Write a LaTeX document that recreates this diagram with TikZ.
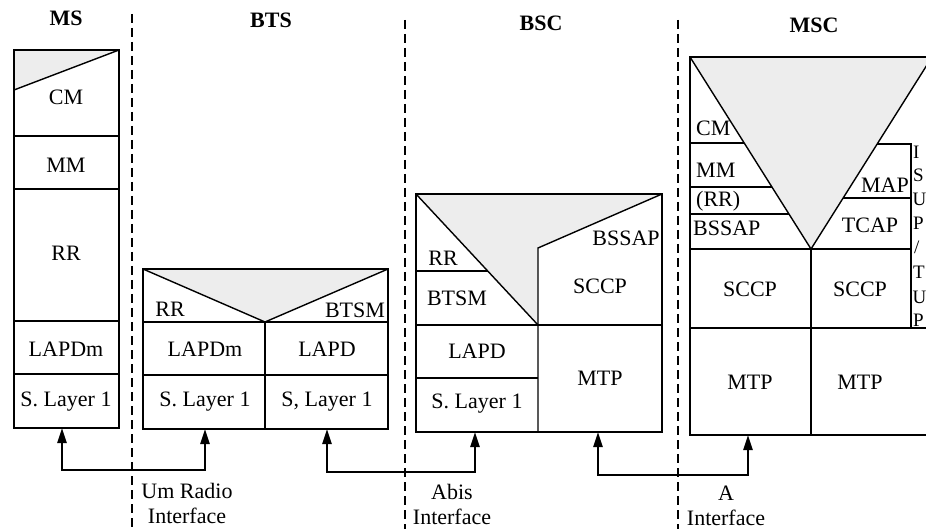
\documentclass[tikz,border=0pt]{standalone}
\usepackage{fontspec}
\setmainfont{Liberation Serif}
\usetikzlibrary{arrows.meta}
\begin{document}
\begin{tikzpicture}[x=1pt,y=-1pt,
  box/.style={line width=1.4pt},
  shaded/.style={fill=black!7},
  lbl/.style={font=\fontsize{22}{25}\selectfont, inner sep=0pt},
  vlt/.style={font=\fontsize{19}{22}\selectfont, inner sep=0pt, anchor=west},
  ttl/.style={font=\fontsize{22}{25}\selectfont\bfseries, inner sep=0pt},
  sepline/.style={line width=1.1pt, dash pattern=on 9pt off 5pt},
  link/.style={line width=2.3pt, {Triangle[length=15pt,width=9pt]}-{Triangle[length=15pt,width=9pt]}}
]
\useasboundingbox (0,0) rectangle (926,529);
\clip (0,0) rectangle (926,529);

% titles
\node[ttl] (tms) at (66,18) {MS};
\node[ttl] (tbts) at (271,20) {BTS};
\node[ttl] (tbsc) at (541,23) {BSC};
\node[ttl] (tmsc) at (814,25) {MSC};

% separators
\draw[sepline] (132,14) -- (132,529);
\draw[sepline] (405,20) -- (405,529);
\draw[sepline] (678,20) -- (678,529);

% ---------- MS ----------
\fill[shaded] (14,50) -- (119,50) -- (14,90) -- cycle;
\draw[box] (14,50) rectangle (119,428);
\draw[box] (14,90) -- (119,50);
\draw[box] (14,136) -- (119,136);
\draw[box] (14,189) -- (119,189);
\draw[box] (14,321) -- (119,321);
\draw[box] (14,374) -- (119,374);
\node[lbl] (mscm) at (66,97) {CM};
\node[lbl] (msmm) at (66,165) {MM};
\node[lbl] (msrr) at (66,253) {RR};
\node[lbl] (mslapdm) at (66,349) {LAPDm};
\node[lbl] (msl1) at (66,402) {S. Layer 1};
\coordinate (msb) at (62,428);

% ---------- BTS ----------
\fill[shaded] (143,269) -- (388,269) -- (265,322) -- cycle;
\draw[box] (143,269) rectangle (388,429);
\draw[box] (143,269) -- (265,322) -- (388,269);
\draw[box] (143,322) -- (388,322);
\draw[box] (143,375) -- (388,375);
\draw[box] (265,322) -- (265,429);
\node[lbl] (btsrr) at (170,309) {RR};
\node[lbl] (btsbtsm) at (355,310) {BTSM};
\node[lbl] (btslapdm) at (205,349) {LAPDm};
\node[lbl] (btslapd) at (327,349) {LAPD};
\node[lbl] (btsl1a) at (205,402) {S. Layer 1};
\node[lbl] (btsl1b) at (327,402) {S, Layer 1};
\coordinate (btsbl) at (205,429);
\coordinate (btsbr) at (327,429);

% ---------- BSC ----------
\fill[shaded] (416,194) -- (662,194) -- (538,248) -- (538,325) -- cycle;
\draw[box] (416,194) rectangle (662,432);
\draw[box] (416,194) -- (538,325);
\draw[box] (538,432) -- (538,248) -- (662,194);
\draw[box] (416,271) -- (488,271);
\draw[box] (416,325) -- (662,325);
\draw[box] (416,378) -- (538,378);
\node[lbl] (bscrr) at (443,258) {RR};
\node[lbl] (bscbtsm) at (457,298) {BTSM};
\node[lbl] (bscbssap) at (626,238) {BSSAP};
\node[lbl] (bsclapd) at (477,351) {LAPD};
\node[lbl] (bscl1) at (477,404) {S. Layer 1};
\node[lbl] (bscsccp) at (600,286) {SCCP};
\node[lbl] (bscmtp) at (600,378) {MTP};
\coordinate (bscbl) at (475,432);
\coordinate (bscbr) at (598,432);

% ---------- MSC ----------
\fill[shaded] (690,57) -- (932,57) -- (811,249) -- cycle;
\draw[box] (940,57) -- (690,57) -- (690,435) -- (940,435);
\draw[box] (690,57) -- (811,249) -- (932,57);
\draw[box] (690,143) -- (744,143);
\draw[box] (690,187) -- (772,187);
\draw[box] (690,214) -- (789,214);
\draw[box] (690,249) -- (911,249);
\draw[box] (690,328) -- (940,328);
\draw[box] (811,249) -- (811,435);
\draw[box] (877,144) -- (911,144) -- (911,328);
\draw[box] (843,198) -- (911,198);
\node[lbl, anchor=west] (msccm) at (696,128) {CM};
\node[lbl, anchor=west] (mscmm) at (696,170) {MM};
\node[lbl, anchor=west] (mscrr) at (696,201) {(RR)};
\node[lbl, anchor=west] (mscbssap) at (693,228) {BSSAP};
\node[lbl] (mscmap) at (885,185) {MAP};
\node[lbl] (msctcap) at (870,225) {TCAP};
\node[lbl] (mscsccpa) at (750,289) {SCCP};
\node[lbl] (mscsccpb) at (860,289) {SCCP};
\node[lbl] (mscmtpa) at (750,382) {MTP};
\node[lbl] (mscmtpb) at (860,382) {MTP};
\node[vlt] (isup1) at (913,152) {I};
\node[vlt] (isup2) at (913,175) {S};
\node[vlt] (isup3) at (912.5,199) {U};
\node[vlt] (isup4) at (913,223) {P};
\node[vlt] (isup5) at (914,247) {/};
\node[vlt] (isup6) at (913,272) {T};
\node[vlt] (isup7) at (912.5,297) {U};
\node[vlt] (isup8) at (913,320) {P};
\coordinate (mscb) at (748,435);

% ---------- interfaces ----------
\draw[link] (msb) -- (62,470) -- (205,470) -- (btsbl);
\draw[link] (btsbr) -- (327,472) -- (475,472) -- (bscbl);
\draw[link] (bscbr) -- (598,475) -- (748,475) -- (mscb);

\node[lbl, align=center] (um) at (187,503) {Um Radio\\Interface};
\node[lbl, align=center] (abis) at (452,504) {Abis\\Interface};
\node[lbl, align=center] (aif) at (726,506) {A\\Interface};
\end{tikzpicture}
\end{document}
